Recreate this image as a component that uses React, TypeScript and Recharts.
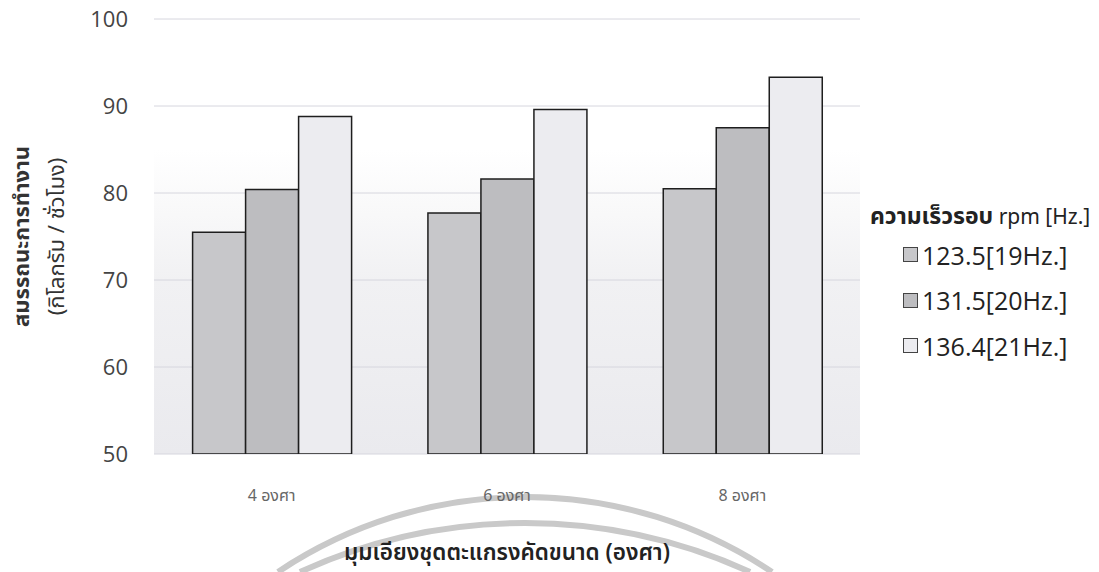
import React from 'react';
import { BarChart, Bar, XAxis, YAxis, CartesianGrid, Label } from 'recharts';

// Sorting-screen tilt angles (categories) and throughput per drum speed
const categories = ['4 องศา', '6 องศา', '8 องศา'];
const speed19Hz = [75.5, 77.7, 80.5];
const speed20Hz = [80.4, 81.6, 87.5];
const speed21Hz = [88.8, 89.6, 93.3];
const seriesKeys = ['s19', 's20', 's21'];
const seriesNames = ['123.5[19Hz.]', '131.5[20Hz.]', '136.4[21Hz.]'];
const seriesColors = ['#c7c7ca', '#bdbdc0', '#ececf0'];
const yTicks = [50, 60, 70, 80, 90, 100];

const data = categories.map((c, i) => ({
  angle: c,
  s19: speed19Hz[i],
  s20: speed20Hz[i],
  s21: speed21Hz[i],
}));

const LATIN = "'Open Sans', 'Noto Sans', sans-serif";
const THAI = "'Noto Sans Thai', Tahoma, 'Noto Sans', 'DejaVu Sans', sans-serif";

const YTitle = (props: any) => {
  const vb = props.viewBox || {};
  const cy = (vb.y ?? 19) + (vb.height ?? 435) / 2;
  return (
    <g>
      <text
        x={22}
        y={cy}
        transform={`rotate(-90, 22, ${cy})`}
        textAnchor="middle"
        dominantBaseline="central"
        fontFamily={THAI}
        fontWeight="bold"
        fontSize={22}
        fill="#333"
      >
        สมรรถนะการทำงาน
      </text>
      <text
        x={57}
        y={cy}
        transform={`rotate(-90, 57, ${cy})`}
        textAnchor="middle"
        dominantBaseline="central"
        fontFamily={THAI}
        fontSize={22}
        fill="#333"
      >
        (กิโลกรัม / ชั่วโมง)
      </text>
    </g>
  );
};

// Legend block on the right: title plus one swatch row per speed
const SpeedLegend = () => (
  <div style={{ position: 'absolute', left: 870, top: 202, width: 229, fontFamily: LATIN, color: '#222' }}>
    <div style={{ height: 30, lineHeight: '30px', whiteSpace: 'nowrap' }}>
      <span style={{ fontFamily: THAI, fontWeight: 'bold', fontSize: 23 }}>ความเร็วรอบ</span>
      <span style={{ fontFamily: THAI, fontSize: 21 }}> rpm [Hz.]</span>
    </div>
    {seriesNames.map((name, i) => (
      <div
        key={name}
        style={{ display: 'flex', alignItems: 'center', height: 45.5, paddingLeft: 33, fontSize: 25 }}
      >
        <span
          style={{
            display: 'inline-block',
            width: 13,
            height: 13,
            background: seriesColors[i],
            border: '1px solid #444',
            marginRight: 4,
          }}
        />
        <span>{name}</span>
      </div>
    ))}
  </div>
);

export default function App() {
  return (
    <div style={{ position: 'absolute', left: 0, top: 0, width: 1099, height: 572, background: '#fff' }}>
      {/* faint seal printed behind the axis title */}
      <svg width={1099} height={572} style={{ position: 'absolute', left: 0, top: 0 }}>
        <path d="M 278 572 A 444 444 0 0 1 772 572" fill="none" stroke="#c9c9c9" strokeWidth={6} />
        <path d="M 300 572 A 542 542 0 0 1 750 572" fill="none" stroke="#c9c9c9" strokeWidth={6} />
      </svg>
      <div style={{ position: 'absolute', left: 0, top: 0 }}>
        <BarChart
          width={1099}
          height={572}
          data={data}
          margin={{ top: 19, right: 239, bottom: 0, left: 0 }}
          barCategoryGap="16.4%"
          barGap={0}
        >
          <defs>
            <linearGradient id="plotShade" x1="0" y1="0" x2="0" y2="1">
              <stop offset="0" stopColor="#ffffff" />
              <stop offset="0.3" stopColor="#ffffff" />
              <stop offset="0.6" stopColor="#f1f1f3" />
              <stop offset="1" stopColor="#eaeaee" />
            </linearGradient>
          </defs>
          <CartesianGrid vertical={false} stroke="#d6d6de" fill="url(#plotShade)" />
          <XAxis
            dataKey="angle"
            height={118}
            tickLine={false}
            axisLine={false}
            tickMargin={30}
            tick={{ fontFamily: THAI, fontSize: 16, fill: '#666' }}
          >
            <Label
              position="insideBottom"
              offset={12}
              value="มุมเอียงชุดตะแกรงคัดขนาด (องศา)"
              style={{ fontFamily: THAI, fontSize: 22.5, fill: '#222', fontWeight: 600 }}
            />
          </XAxis>
          <YAxis
            width={154}
            domain={[50, 100]}
            ticks={yTicks}
            allowDataOverflow
            tickLine={false}
            axisLine={false}
            tickMargin={20}
            tick={{ fontFamily: LATIN, fontSize: 22, fill: '#444' }}
          >
            <Label content={<YTitle />} />
          </YAxis>
          {seriesKeys.map((k, i) => (
            <Bar
              key={k}
              dataKey={k}
              name={seriesNames[i]}
              fill={seriesColors[i]}
              stroke="#1e1e1e"
              strokeWidth={1.5}
              isAnimationActive={false}
            />
          ))}
        </BarChart>
      </div>
      <SpeedLegend />
    </div>
  );
}
